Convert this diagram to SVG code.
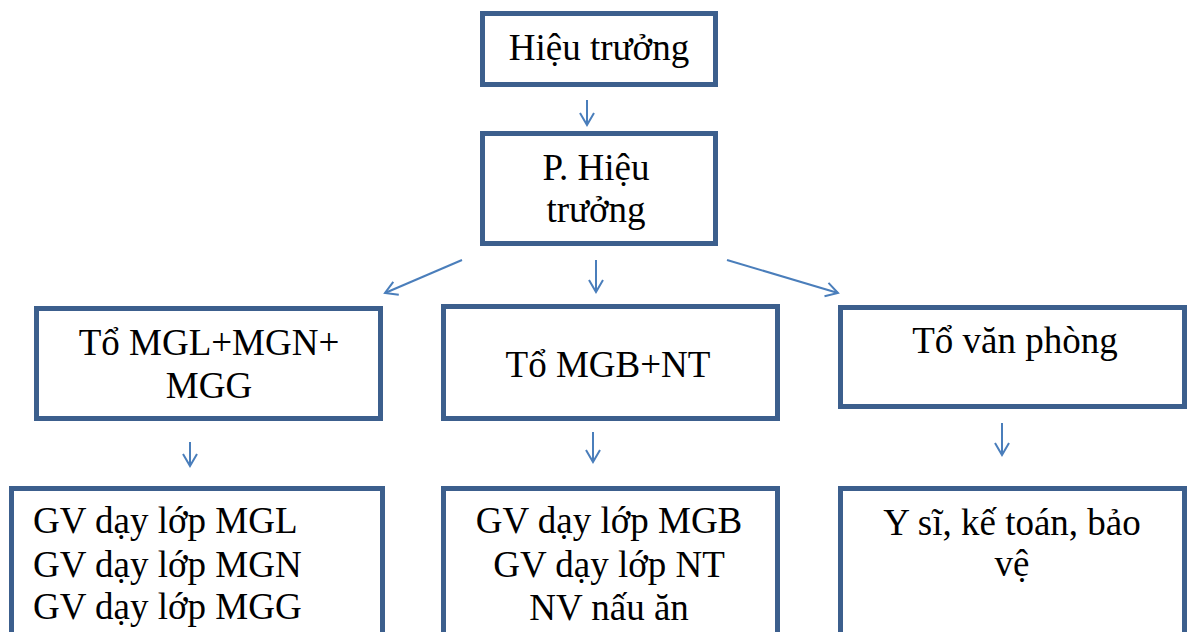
<svg xmlns="http://www.w3.org/2000/svg" width="1188" height="632" viewBox="0 0 1188 632">
<style>
.box{fill:#fff;stroke:#3C5F8D;stroke-width:5}
.t{font-family:'Times New Roman','Liberation Serif','DejaVu Serif',serif;font-size:37px;fill:#000}
.c{text-anchor:middle}
.arr{stroke:#4A7EBB;stroke-width:2;fill:none;marker-end:url(#ah)}
</style>
<defs>
<marker id="ah" markerUnits="userSpaceOnUse" markerWidth="20" markerHeight="20" viewBox="-14 -10 16 20" refX="0" refY="0" orient="auto">
<path d="M-12,-7 L0,0 L-12,7" fill="none" stroke="#4A7EBB" stroke-width="2"/>
</marker>
</defs>
<rect width="1188" height="632" fill="#fff"/>
<g id="connectors">
<line class="arr" x1="587" y1="100" x2="587" y2="125"/>
<line class="arr" x1="462" y1="260" x2="385" y2="293"/>
<line class="arr" x1="596" y1="260" x2="596" y2="292"/>
<line class="arr" x1="727" y1="260" x2="838" y2="293"/>
<line class="arr" x1="190" y1="442" x2="190" y2="466"/>
<line class="arr" x1="593" y1="432" x2="593" y2="462"/>
<line class="arr" x1="1002" y1="423" x2="1002" y2="455"/>
</g>
<g id="hieutruong">
<rect class="box" x="482.5" y="13.5" width="233" height="71"/>
<text class="t c" x="599" y="60">Hiệu trưởng</text>
</g>
<g id="phohieutruong">
<rect class="box" x="482.5" y="133.5" width="233" height="110"/>
<text class="t c" x="596" y="180">P. Hiệu</text>
<text class="t c" x="596" y="222">trưởng</text>
</g>
<g id="to-mgl">
<rect class="box" x="36.5" y="308.5" width="344" height="110"/>
<text class="t c" x="209" y="355">Tổ MGL+MGN+</text>
<text class="t c" x="209" y="398">MGG</text>
</g>
<g id="to-mgb">
<rect class="box" x="443.5" y="306.5" width="334" height="112"/>
<text class="t c" x="608" y="377">Tổ MGB+NT</text>
</g>
<g id="to-vanphong">
<rect class="box" x="840.5" y="307.5" width="344" height="99"/>
<text class="t c" x="1015" y="353">Tổ văn phòng</text>
</g>
<g id="gv-mgl">
<rect class="box" x="11.5" y="488.5" width="371" height="160"/>
<text class="t" x="33" y="533">GV dạy lớp MGL</text>
<text class="t" x="33" y="577">GV dạy lớp MGN</text>
<text class="t" x="33" y="619">GV dạy lớp MGG</text>
</g>
<g id="gv-mgb">
<rect class="box" x="443.5" y="488.5" width="334" height="160"/>
<text class="t c" x="609" y="533">GV dạy lớp MGB</text>
<text class="t c" x="609" y="577">GV dạy lớp NT</text>
<text class="t c" x="609" y="620">NV nấu ăn</text>
</g>
<g id="ysi">
<rect class="box" x="840.5" y="488.5" width="344" height="160"/>
<text class="t c" x="1012" y="535">Y sĩ, kế toán, bảo</text>
<text class="t c" x="1012" y="576">vệ</text>
</g>
</svg>
